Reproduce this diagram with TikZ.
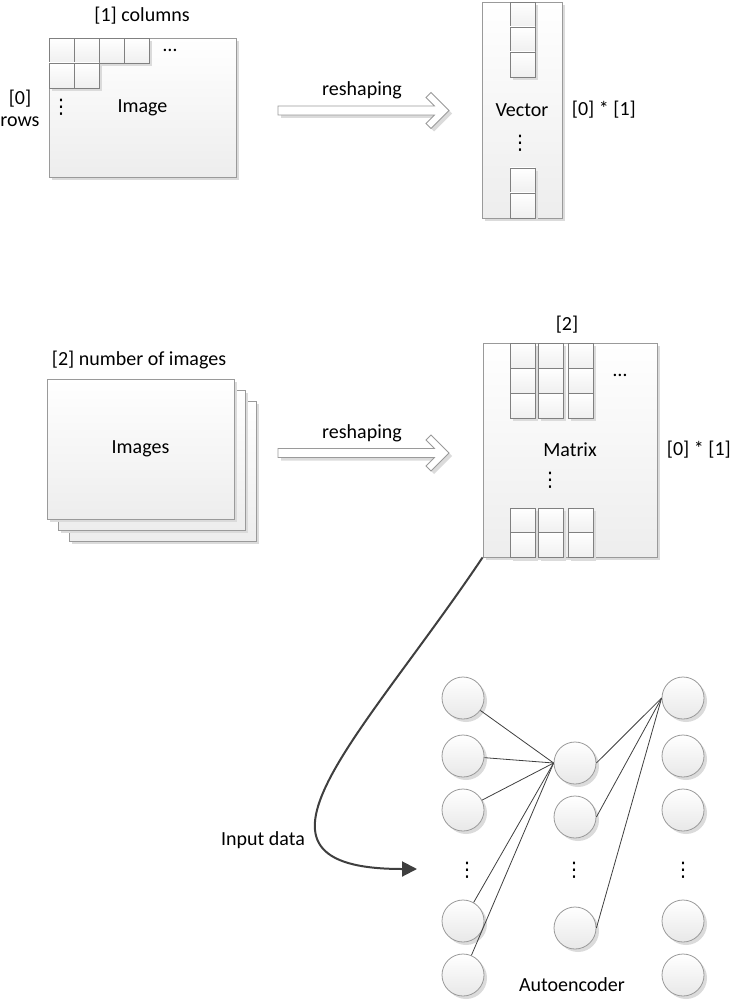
\documentclass[tikz,border=0pt]{standalone}
\usepackage{fontspec}
\setmainfont{Carlito}
\newfontfamily\symfont{DejaVu Sans}
\usetikzlibrary{positioning,shadows,arrows.meta}

\definecolor{boxline}{HTML}{9A9A9A}
\definecolor{cellline}{HTML}{808080}
\definecolor{linkcol}{HTML}{3F3F3F}

\newcommand{\vdotsb}{{\symfont ⋮}}

\tikzset{
  softshadow/.style={drop shadow={shadow xshift=3pt,shadow yshift=-3pt,fill=black!14,opacity=1}},
  panel/.style={draw=boxline, line width=0.8pt, top color=white, bottom color=black!7,
    inner sep=0pt, softshadow},
  cell/.style={draw=cellline, line width=0.8pt, top color=white, bottom color=black!6,
    minimum width=25pt, minimum height=25pt, inner sep=0pt, softshadow},
  neuron/.style={circle, draw=boxline, line width=0.8pt, top color=white, bottom color=black!9,
    minimum size=42pt, inner sep=0pt, softshadow},
  link/.style={draw=linkcol, line width=0.8pt},
  dotsnode/.style={inner sep=0pt},
  reshapearrow/.pic={
    \draw[boxline, line width=0.8pt, fill=white, softshadow]
      (0,-4.5) -- (156.5,-4.5) -- (148,-13) -- (153,-18) -- (171,0)
      -- (153,18) -- (148,13) -- (156.5,4.5) -- (0,4.5) -- cycle;
  }
}

\begin{document}
\begin{tikzpicture}[x=1pt, y=-1pt, font=\fontsize{20}{22}\selectfont]
  \useasboundingbox (0,0) rectangle (733,1000);

  % Bild und Vektor
  \node[panel, minimum width=187pt, minimum height=139pt] (img) at (142.5,107.5) {Image};
  \foreach \x [count=\i] in {61.5,86.5,111.5,136.5}
    \node[cell] (ic\i) at (\x,50.5) {};
  \foreach \x [count=\i] in {61.5,86.5}
    \node[cell] (id\i) at (\x,75.5) {};
  \node[dotsnode] (imgdots) at (170,50) {…};
  \node[dotsnode] (imgvdots) at (61,107) {\vdotsb};
  \node (cols) at (142,16) {[1] columns};
  \node[align=center] (rows) at (20,108) {[0]\\rows};

  \pic at (278,110.5) {reshapearrow};
  \node (rs1) at (362,90) {reshaping};

  \node[panel, minimum width=80pt, minimum height=216pt] (vec) at (522,110) {Vector};
  \foreach \y [count=\i] in {14.5,39.5,64.5,180.5,205.5}
    \node[cell] (vc\i) at (522.5,\y) {};
  \node[dotsnode] (vecvdots) at (520,143) {\vdotsb};
  \node[right=6pt of vec] (vecdim) {[0] * [1]};

  % Bilder und Matrix
  \node[panel, minimum width=187pt, minimum height=140pt] (imgs3) at (162.5,471) {};
  \node[panel, minimum width=187pt, minimum height=140pt] (imgs2) at (151.5,460) {};
  \node[panel, minimum width=187pt, minimum height=140pt] (imgs) at (140.5,449) {Images};
  \node (num) at (139,360) {[2] number of images};

  \pic at (278,453) {reshapearrow};
  \node (rs2) at (362,433) {reshaping};

  \node[panel, minimum width=174pt, minimum height=214pt] (mat) at (570,450) {Matrix};
  \foreach \x [count=\i] in {522.5,550.5,580.5} {
    \foreach \y [count=\j] in {355.5,380.5,405.5,520.5,545}
      \node[cell] (mc\i\j) at (\x,\y) {};
  }
  \node[dotsnode] (matdots) at (620,375) {…};
  \node[dotsnode] (matvdots) at (550,480) {\vdotsb};
  \node (matcols) at (567,325) {[2]};
  \node[right=6pt of mat] (matdim) {[0] * [1]};

  % Autoencoder
  \foreach \y [count=\i] in {698,756,810,921,975}
    \node[neuron] (a\i) at (463,\y) {};
  \foreach \y [count=\i] in {763,817,928}
    \node[neuron] (b\i) at (575,\y) {};
  \foreach \y [count=\i] in {698,756,810,921,975}
    \node[neuron] (c\i) at (683,\y) {};
  \node[dotsnode] (advots) at (467,870) {\vdotsb};
  \node[dotsnode] (bdvots) at (574,870) {\vdotsb};
  \node[dotsnode] (cdvots) at (683,870) {\vdotsb};

  \foreach \i in {1,...,5}
    \draw[link] (a\i) -- (b1.west);
  \foreach \j in {1,2,3}
    \draw[link] (b\j.east) -- (c1.west);

  \node (ae) at (572,985) {Autoencoder};

  % Eingabe
  \coordinate (feed) at (417,869);
  \draw[linkcol, line width=2pt, -{Triangle[length=15pt,width=15pt]}]
    (mat.south west) .. controls (360,740) and (220,869) .. (feed);
  \node (indata) at (263,840) {Input data};
\end{tikzpicture}
\end{document}
